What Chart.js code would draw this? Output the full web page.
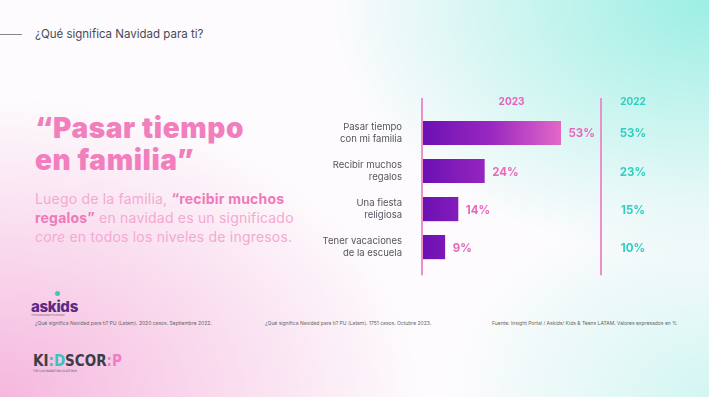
<!DOCTYPE html>
<html>
<head>
<meta charset="utf-8">
<script src="https://cdn.jsdelivr.net/npm/chart.js@4"></script>
<style>
  html, body { margin: 0; padding: 0; }
  body {
    width: 709px; height: 397px; overflow: hidden; position: relative;
    font-family: "Inter", "Noto Sans", sans-serif;
    background:
      radial-gradient(ellipse 420px 300px at 0% 100%, rgba(245,180,220,0.95), rgba(245,190,225,0) 100%),
      radial-gradient(ellipse 380px 260px at 100% 0%, rgba(150,238,226,0.95), rgba(160,240,230,0) 100%),
      radial-gradient(ellipse 260px 200px at 100% 100%, rgba(200,245,240,0.8), rgba(200,245,240,0) 100%),
      #fdfbfd;
  }
  .topline { position: absolute; left: 0; top: 34px; width: 22px; height: 1px; background: #888; }
  .kicker { position: absolute; left: 35px; top: 27px; font-size: 11.5px; color: #4a4a55; }
  .headline { position: absolute; left: 35px; top: 112px; font-size: 28px; line-height: 32px;
    font-weight: 900; color: #f27fbd; letter-spacing: 0.6px; }
  .para { position: absolute; left: 35px; top: 189px; font-size: 14px; line-height: 19px;
    color: #f4a9d0; letter-spacing: 0.2px; white-space: nowrap; }
  .para b { color: #ee7ab9; font-weight: 700; }
  .para i { font-style: italic; }
  .note { position: absolute; top: 320px; font-size: 5px; color: #666; white-space: nowrap; }
  .askids { position: absolute; left: 31px; top: 297px; font-size: 15px; font-weight: 800; color: #5b2a86; letter-spacing: -0.3px; }
  .askids .dot { position: absolute; left: 24px; top: -6px; width: 5px; height: 5px; border-radius: 50%; background: #3cc9b8; }
  .askids small { display: block; font-size: 2.5px; font-weight: 400; color: #777; margin-top: -2px; }
  .kc { position: absolute; left: 33px; top: 352px; font-family: "DejaVu Sans Condensed", "Liberation Sans Narrow", sans-serif;
    font-size: 15px; font-weight: 700; color: #3d3d48; }
  .kc .c { color: #35c4c0; } .kc .p { color: #f07cc4; }
  .kc small { display: block; font-size: 3px; font-weight: 400; color: #555; margin-top: -1px; }
  #wrap { position: absolute; left: 320px; top: 89px; width: 389px; height: 201px; }
</style>
</head>
<body>
<div class="topline"></div>
<div class="kicker">¿Qué significa Navidad para ti?</div>
<div class="headline">“Pasar tiempo<br>en familia”</div>
<div class="para">Luego de la familia, <b>“recibir muchos</b><br><b>regalos”</b> en navidad es un significado<br><i>core</i> en todos los niveles de ingresos.</div>

<div class="askids"><span class="dot"></span>askids<small>THE LEADING INSIGHT PLATFORM</small></div>
<div class="note" style="left:35px">¿Qué significa Navidad para ti? PU (Latam). 2020 casos. Septiembre 2022.</div>
<div class="note" style="left:265px">¿Qué significa Navidad para ti? PU (Latam). 1751 casos. Octubre 2023.</div>
<div class="note" style="left:492px">Fuente: Insight Portal / Askids/ Kids &amp; Teens LATAM. Valores expresados en %</div>
<div class="kc">KI<span class="c">:D</span>SCOR<span class="p">:P</span><small>THE U18 MARKETING PLATFORM</small></div>

<div id="wrap"><canvas id="grafico"></canvas></div>

<script>
var categorias = [
    ['Pasar tiempo', 'con mi familia'],
    ['Recibir muchos', 'regalos'],
    ['Una fiesta', 'religiosa'],
    ['Tener vacaciones', 'de la escuela']
];
var valores2023 = [53, 24, 14, 9];
var valores2022 = [53, 23, 15, 10];
var anios = ['2023', '2022'];

/* gradiente morado -> rosa a lo largo del eje x */
function degradado(context) {
    var chart = context.chart;
    var area = chart.chartArea;
    if (!area) return '#7a16b8';
    var x1 = chart.scales.x.getPixelForValue(Math.max.apply(null, valores2023));
    var g = chart.ctx.createLinearGradient(area.left, 0, x1, 0);
    g.addColorStop(0, '#6b10b3');
    g.addColorStop(0.5, '#9a28c0');
    g.addColorStop(1, '#e468c8');
    return g;
}

/* etiquetas de valores, columna 2022 y lineas verticales */
var extras = {
    id: 'extras',
    afterDatasetsDraw: function (chart) {
        var ctx = chart.ctx;
        var area = chart.chartArea;
        var meta = chart.getDatasetMeta(0);
        var col22 = area.right + 32;
        ctx.save();
        ctx.strokeStyle = '#ec8fcb';
        ctx.lineWidth = 2;
        [area.left, area.right].forEach(function (x) {
            ctx.beginPath();
            ctx.moveTo(x, area.top - 16);
            ctx.lineTo(x, area.bottom + 9);
            ctx.stroke();
        });
        ctx.font = '700 10px Inter, "Noto Sans", sans-serif';
        ctx.textAlign = 'center';
        ctx.textBaseline = 'middle';
        ctx.fillStyle = '#e560b8';
        ctx.fillText(anios[0], (area.left + area.right) / 2, area.top - 12);
        ctx.fillStyle = '#2fcfc2';
        ctx.fillText(anios[1], col22, area.top - 12);
        ctx.font = '700 11.5px Inter, "Noto Sans", sans-serif';
        meta.data.forEach(function (bar, i) {
            ctx.textAlign = 'left';
            ctx.fillStyle = '#e868bd';
            ctx.fillText(valores2023[i] + '%', bar.x + 7, bar.y + 1);
            ctx.textAlign = 'center';
            ctx.fillStyle = '#2fcfc2';
            ctx.fillText(valores2022[i] + '%', col22, bar.y + 1);
        });
        ctx.restore();
    }
};

new Chart(document.getElementById('grafico'), {
    type: 'bar',
    data: {
        labels: categorias,
        datasets: [{
            label: anios[0],
            data: valores2023,
            backgroundColor: degradado,
            borderColor: 'rgba(255,255,255,0.5)',
            borderWidth: 0.5,
            barPercentage: 0.66,
            categoryPercentage: 1
        }]
    },
    options: {
        indexAxis: 'y',
        responsive: true,
        maintainAspectRatio: false,
        animation: false,
        layout: { padding: { top: 25, bottom: 8, right: 108, left: 0 } },
        plugins: { legend: { display: false }, tooltip: { enabled: false } },
        scales: {
            x: { display: false, min: 0, max: 68 },
            y: {
                grid: { display: false },
                border: { display: false },
                afterFit: function (scale) { scale.width = 102; },
                ticks: {
                    color: '#55555f',
                    padding: 12,
                    font: { size: 9.5, family: 'Inter, "Noto Sans", sans-serif', lineHeight: 1.25 }
                }
            }
        }
    },
    plugins: [extras]
});
</script>
</body>
</html>
